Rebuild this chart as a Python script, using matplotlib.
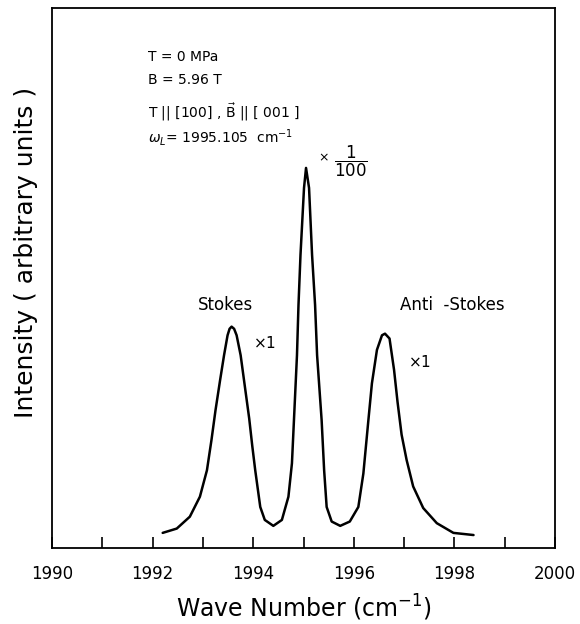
import matplotlib
matplotlib.use("Agg")
import matplotlib.pyplot as plt
from matplotlib.ticker import MultipleLocator

plt.rcParams['font.family'] = ['DejaVu Sans']
plt.rcParams['mathtext.fontset'] = 'dejavusans'

# spectrum (wave number in cm^-1, intensity in arbitrary units)
wave = [1992.20, 1992.48, 1992.74, 1992.94, 1993.08, 1993.17, 1993.25, 1993.34,
        1993.42, 1993.49, 1993.53, 1993.57, 1993.62, 1993.67, 1993.75, 1993.84,
        1993.92, 1993.98, 1994.04, 1994.14, 1994.23, 1994.40, 1994.57, 1994.70,
        1994.77, 1994.81, 1994.87, 1994.90, 1994.94, 1995.01, 1995.05, 1995.11,
        1995.17, 1995.23, 1995.27, 1995.36, 1995.41, 1995.46, 1995.56, 1995.73,
        1995.92, 1996.09, 1996.19, 1996.29, 1996.36, 1996.46, 1996.56, 1996.62,
        1996.71, 1996.80, 1996.87, 1996.95, 1997.05, 1997.18, 1997.38, 1997.65,
        1997.98, 1998.38]
intensity = [0.028, 0.036, 0.058, 0.095, 0.144, 0.200, 0.255, 0.310,
             0.357, 0.394, 0.406, 0.410, 0.406, 0.394, 0.357, 0.295,
             0.240, 0.190, 0.144, 0.076, 0.052, 0.041, 0.052, 0.095,
             0.157, 0.237, 0.357, 0.450, 0.543, 0.667, 0.704, 0.667,
             0.543, 0.450, 0.357, 0.237, 0.144, 0.076, 0.049, 0.041,
             0.049, 0.076, 0.138, 0.237, 0.305, 0.367, 0.394, 0.397,
             0.388, 0.330, 0.270, 0.210, 0.163, 0.114, 0.074, 0.046,
             0.028, 0.024]

xticks = [1990, 1992, 1994, 1996, 1998, 2000]

fig = plt.figure(figsize=(5.8, 6.24), dpi=100)
ax = fig.add_axes([0.0897, 0.1218, 0.8672, 0.8652])

ax.plot(wave, intensity, color='black', lw=1.8,
        solid_capstyle='round', solid_joinstyle='round')

ax.set_xlim(1990, 2000)
ax.set_ylim(0, 1)
ax.set_xticks(xticks)
ax.xaxis.set_minor_locator(MultipleLocator(1))
ax.tick_params(axis='x', which='both', direction='in', length=8, width=1.2,
               labelsize=12, pad=12, top=False)
ax.set_yticks([])
for s in ax.spines.values():
    s.set_linewidth(1.3)

ax.set_xlabel('Wave Number (cm$^{-1}$)', fontsize=17, labelpad=7)
ax.set_ylabel('Intensity ( arbitrary units )', fontsize=18)
ax.yaxis.set_label_coords(-0.028, 0.548)

# parameter block
fs = 10
ax.text(1991.90, 0.909, 'T = 0 MPa', fontsize=fs, va='center')
ax.text(1991.90, 0.867, 'B = 5.96 T', fontsize=fs, va='center')
ax.text(1991.90, 0.807, r'T || [100] , $\vec{\mathrm{B}}$ || [ 001 ]', fontsize=fs, va='center')
ax.text(1991.90, 0.761, r'$\omega_L$= 1995.105  cm$^{-1}$', fontsize=fs, va='center')

# peak labels
ax.text(1993.44, 0.450, 'Stokes', fontsize=12, ha='center', va='center')
ax.text(1994.00, 0.380, r'$\times$1', fontsize=11, ha='left', va='center')
ax.text(1997.95, 0.450, 'Anti  -Stokes', fontsize=12, ha='center', va='center')
ax.text(1997.08, 0.344, r'$\times$1', fontsize=11, ha='left', va='center')
ax.text(1995.28, 0.722, r'$\times$', fontsize=9, ha='left', va='center')
ax.text(1995.94, 0.717, r'$\dfrac{1}{100}$', fontsize=12, ha='center', va='center')

fig.savefig('out.png', dpi=100)
